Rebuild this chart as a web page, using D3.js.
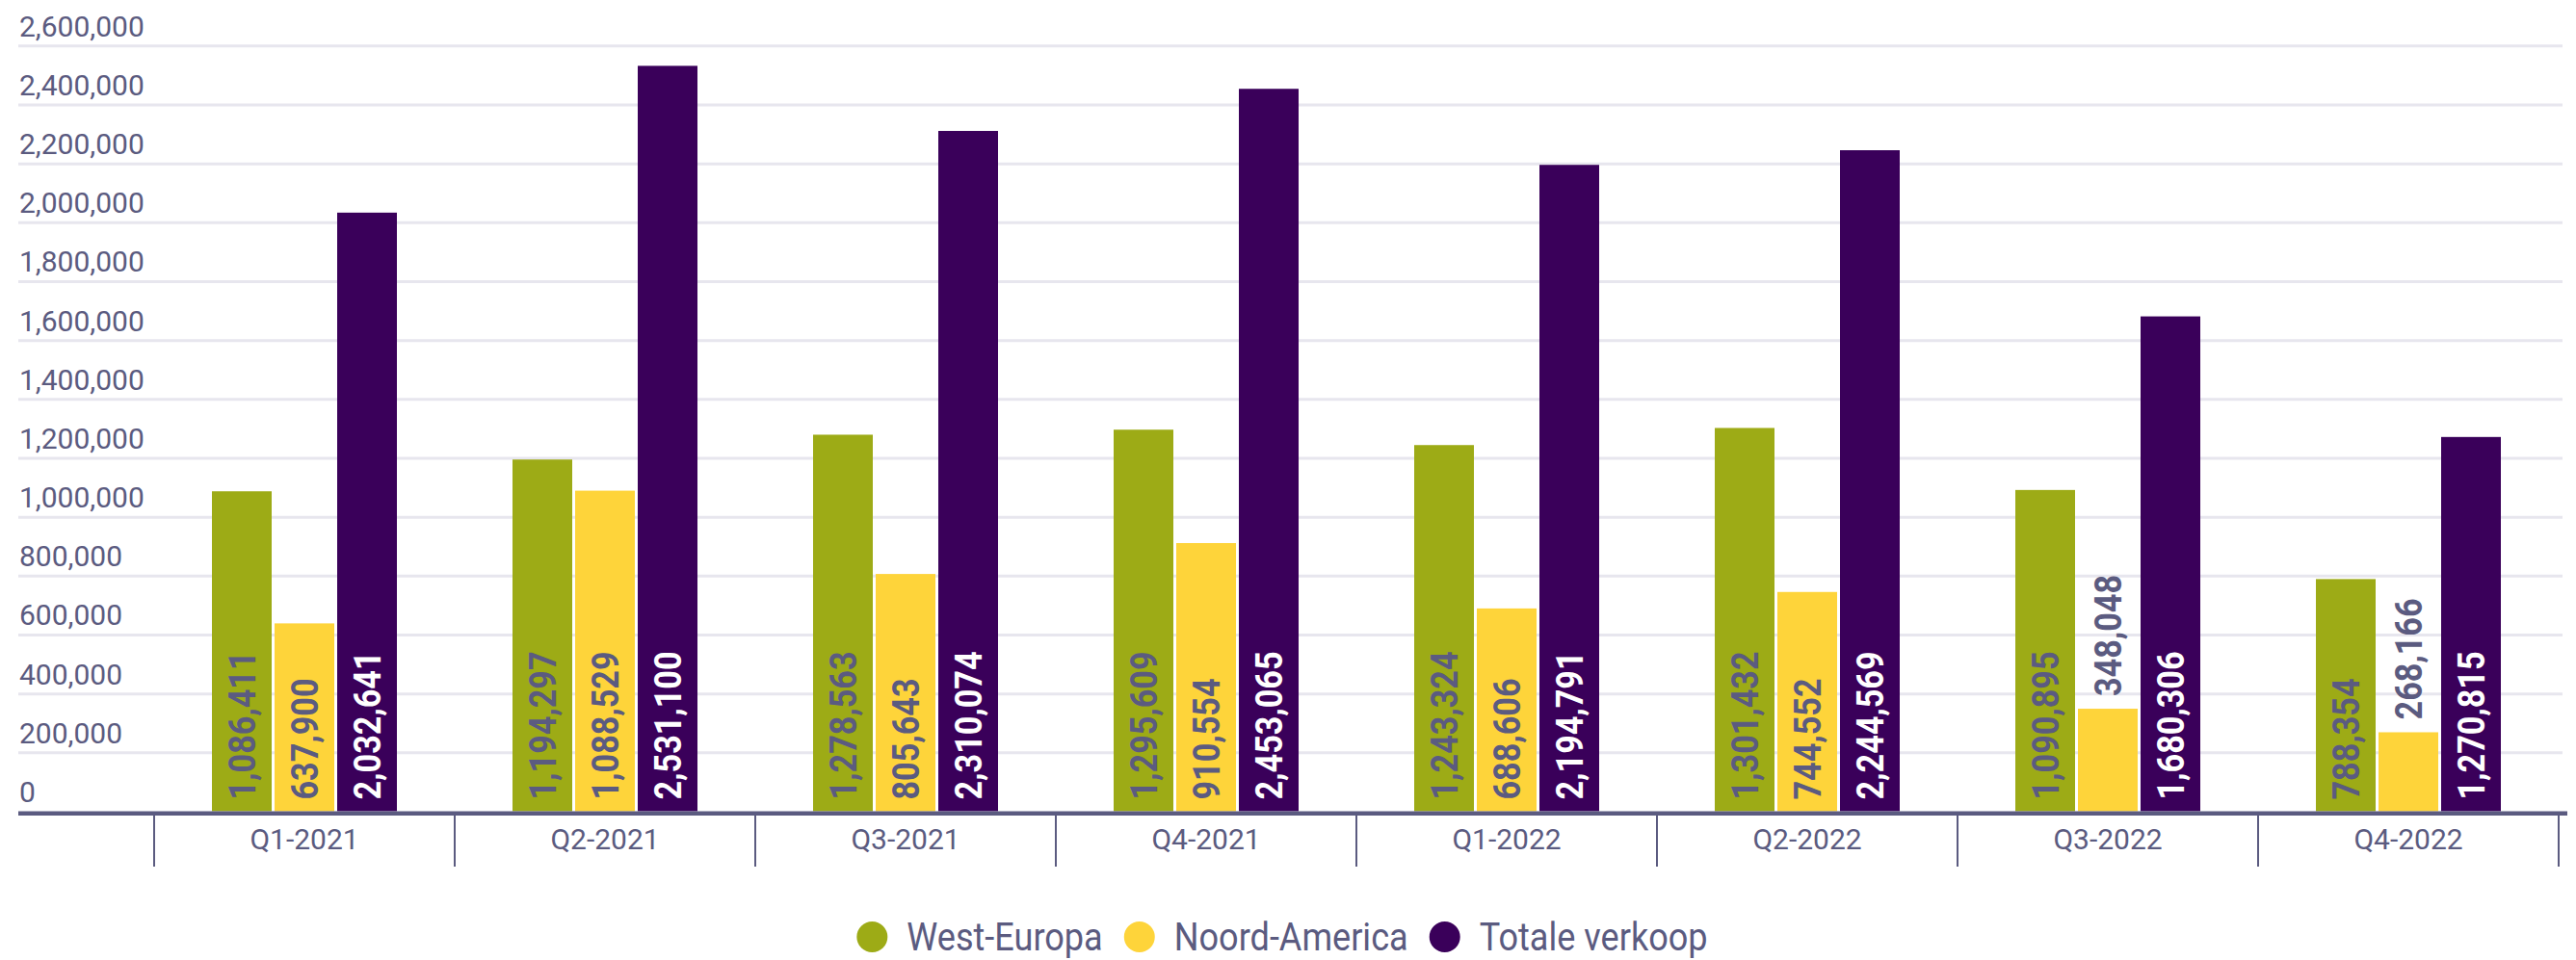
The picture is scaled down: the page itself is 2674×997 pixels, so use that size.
<!DOCTYPE html>
<html>
<head>
<meta charset="utf-8">
<script src="https://cdn.jsdelivr.net/npm/d3@7"></script>
<style>
  html, body { margin: 0; padding: 0; background: #fff; }
  svg { display: block; }
</style>
</head>
<body>
<svg id="chart" width="2674" height="997"></svg>
<script>
const categories = ["Q1-2021", "Q2-2021", "Q3-2021", "Q4-2021", "Q1-2022", "Q2-2022", "Q3-2022", "Q4-2022"];
const seriesNames = ["West-Europa", "Noord-America", "Totale verkoop"];
const westEuropa = [1086411, 1194297, 1278563, 1295609, 1243324, 1301432, 1090895, 788354];
const noordAmerica = [637900, 1088529, 805643, 910554, 688606, 744552, 348048, 268166];
const totaleVerkoop = [2032641, 2531100, 2310074, 2453065, 2194791, 2244569, 1680306, 1270815];
const yTicks = [0, 200000, 400000, 600000, 800000, 1000000, 1200000, 1400000, 1600000, 1800000, 2000000, 2200000, 2400000, 2600000];

const seriesValues = [westEuropa, noordAmerica, totaleVerkoop];
const colors = ["#9dab16", "#fed43a", "#3a005a"];
const labelColors = ["#5b5b80", "#5b5b80", "#ffffff"];
const textColor = "#5b5b80";

const svg = d3.select("#chart");
const gridLeft = 19, gridRight = 2660;

const y = d3.scaleLinear().domain([0, 2600000]).range([842.5, 47.3]);
const x0 = d3.scaleBand().domain(categories).range([160, 2656]).padding(0);
const x1 = d3.scaleBand().domain(seriesNames).range([-97.5, 97.5])
  .paddingInner(3 / 65).paddingOuter(3 / 130);

// gridlines + y labels
const yAxis = d3.axisRight(y).tickValues(yTicks).tickFormat(d3.format(",")).tickSize(gridRight - gridLeft);
const gy = svg.append("g").attr("transform", `translate(${gridLeft},0)`).call(yAxis);
gy.select(".domain").remove();
gy.selectAll(".tick line").attr("stroke", "#e7e6ee").attr("stroke-width", 3);
gy.selectAll(".tick").filter(d => d === 0).select("line").remove();
gy.selectAll(".tick text")
  .attr("x", 1).attr("dy", -10)
  .attr("text-anchor", "start")
  .attr("dominant-baseline", "auto")
  .attr("fill", textColor)
  .style("font-family", "Roboto, sans-serif")
  .style("font-size", "30px");

// bars
const data = [];
categories.forEach((c, i) => {
  seriesNames.forEach((s, j) => {
    data.push({ cat: c, series: s, si: j, value: seriesValues[j][i] });
  });
});

const bars = svg.append("g");
bars.selectAll("rect").data(data).join("rect")
  .attr("x", d => x0(d.cat) + x0.bandwidth() / 2 + x1(d.series))
  .attr("y", d => y(d.value))
  .attr("width", x1.bandwidth())
  .attr("height", d => y(0) - y(d.value))
  .attr("fill", d => colors[d.si]);

// x axis line
svg.append("line")
  .attr("x1", gridLeft).attr("x2", 2665)
  .attr("y1", 844.7).attr("y2", 844.7)
  .attr("stroke", textColor).attr("stroke-width", 4.5);

// boundary ticks
const bounds = categories.map(c => x0(c)).concat([x0.range()[1]]);
svg.append("g").selectAll("line").data(bounds).join("line")
  .attr("x1", d => d).attr("x2", d => d)
  .attr("y1", 846).attr("y2", 900)
  .attr("stroke", textColor).attr("stroke-width", 2);

// x labels
const xAxis = d3.axisBottom(x0).tickSize(0);
const gx = svg.append("g").attr("transform", "translate(0,847)").call(xAxis);
gx.select(".domain").remove();
gx.selectAll(".tick text")
  .attr("y", 0).attr("dy", "1.17em")
  .attr("fill", textColor)
  .style("font-family", "Roboto, sans-serif")
  .style("font-size", "30px");

// data labels
const fmt = d3.format(",");
const labelScale = 0.9;
const lbl = svg.append("g");
data.forEach(d => {
  const cx = x0(d.cat) + x0.bandwidth() / 2 + x1(d.series) + x1.bandwidth() / 2;
  const t = lbl.append("text")
    .text(fmt(d.value))
    .attr("text-anchor", "start")
    .attr("dy", "0.36em")
    .style("font-family", "Roboto, sans-serif")
    .style("font-weight", "700")
    .style("font-size", "38px");
  const len = t.node().getComputedTextLength() * labelScale;
  const barH = y(0) - y(d.value);
  let startY, fill;
  if (len + 24 <= barH) {
    startY = y(0) - 12;
    fill = labelColors[d.si];
  } else {
    startY = y(d.value) - 13;
    fill = textColor;
  }
  t.attr("fill", fill)
   .attr("transform", `translate(${cx},${startY}) rotate(-90) scale(${labelScale},1)`);
});

// legend
const legend = svg.append("g");
const legendScale = 0.88;
let lx = 0;
seriesNames.forEach((s, j) => {
  const g = legend.append("g");
  g.append("circle").attr("cx", 16).attr("cy", -14).attr("r", 16).attr("fill", colors[j]);
  const t = g.append("text").text(s)
    .attr("fill", textColor)
    .style("font-family", "Roboto, sans-serif")
    .style("font-weight", "400")
    .style("font-size", "41px");
  const w = t.node().getComputedTextLength() * legendScale;
  t.attr("transform", `translate(52,0) scale(${legendScale},1)`);
  g.attr("transform", `translate(${lx},0)`);
  lx += 52 + w + 22;
});
const totalW = lx - 22;
legend.attr("transform", `translate(${1331 - totalW / 2},987)`);
</script>
</body>
</html>
